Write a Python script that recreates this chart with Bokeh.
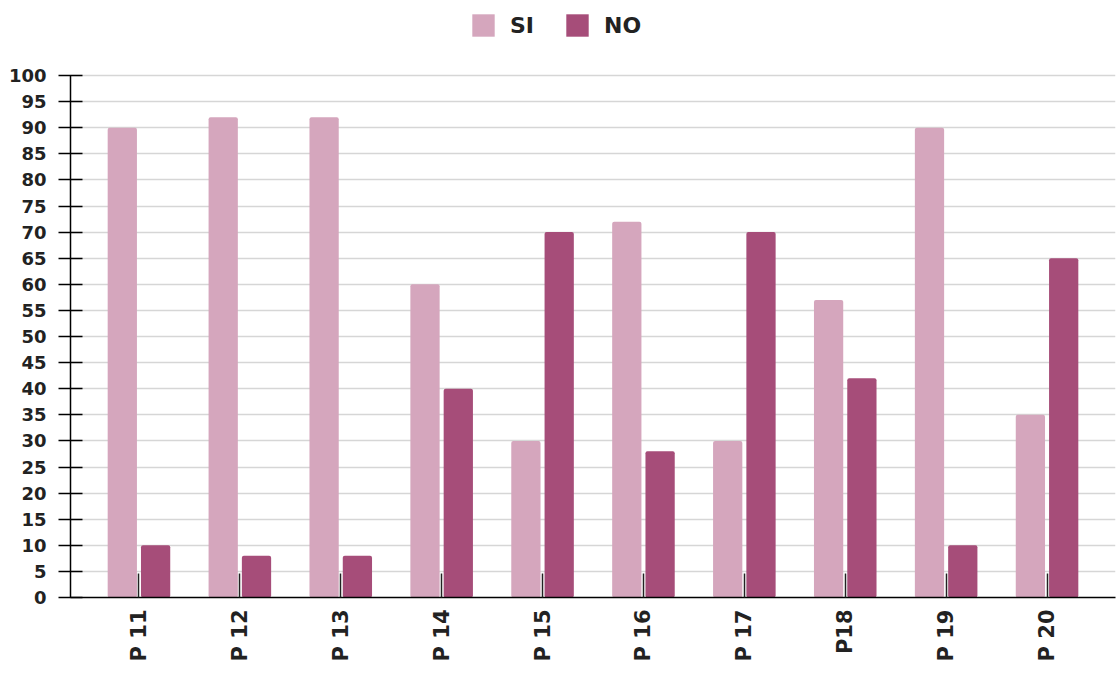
from bokeh.plotting import figure
from bokeh.models import FactorRange, Range1d, ColumnDataSource, SingleIntervalTicker, Legend, LegendItem
from bokeh.transform import dodge
from bokeh.embed import file_html
from bokeh.resources import INLINE
import math

categories = ["P 11", "P 12", "P 13", "P 14", "P 15", "P 16", "P 17", "P18", "P 19", "P 20"]
si_values = [90, 92, 92, 60, 30, 72, 30, 57, 90, 35]
no_values = [10, 8, 8, 40, 70, 28, 70, 42, 10, 65]
series_names = ["SI", "NO"]
colors = ["#d5a6bd", "#a64d79"]

source = ColumnDataSource(dict(cat=categories, si=si_values, no=no_values))

# frame spans full height above the axis; extra headroom holds the legend
p = figure(width=1118, height=674, output_backend="svg", toolbar_location=None,
           x_range=FactorRange(factors=categories, range_padding=0.0357),
           y_range=Range1d(0, 114.37),
           min_border_left=70, min_border_right=3, min_border_top=0, min_border_bottom=77)
p.outline_line_color = None
p.background_fill_color = "white"
p.border_fill_color = "white"

r1 = p.vbar(x=dodge("cat", -0.165, range=p.x_range), top="si", width=0.29, source=source,
            fill_color=colors[0], line_color=None, border_radius=2)
r2 = p.vbar(x=dodge("cat", 0.165, range=p.x_range), top="no", width=0.29, source=source,
            fill_color=colors[1], line_color=None, border_radius=2)

# grid
p.xgrid.grid_line_color = None
p.ygrid.grid_line_color = "#d6d6d6"
p.ygrid.grid_line_width = 1.5
p.ygrid.ticker = SingleIntervalTicker(interval=5)
p.ygrid.bounds = (0, 100)

# y axis
p.yaxis.ticker = SingleIntervalTicker(interval=5)
p.yaxis.bounds = (0, 100)
p.yaxis.axis_line_color = "black"
p.yaxis.axis_line_width = 1.5
p.yaxis.major_tick_line_color = "black"
p.yaxis.major_tick_line_width = 1.5
p.yaxis.major_tick_in = 12
p.yaxis.major_tick_out = 12
p.yaxis.minor_tick_line_color = None
p.yaxis.major_label_text_font = "DejaVu Sans"
p.yaxis.major_label_text_font_style = "bold"
p.yaxis.major_label_text_font_size = "18px"
p.yaxis.major_label_text_color = "#222222"
p.yaxis.major_label_standoff = 12

# x axis
p.xaxis.axis_line_color = "black"
p.xaxis.axis_line_width = 1.5
p.xaxis.major_tick_line_color = "#222222"
p.xaxis.major_tick_line_width = 1.5
p.xaxis.major_tick_in = 24
p.xaxis.major_tick_out = 0
p.xaxis.major_label_orientation = math.pi / 2
p.xaxis.major_label_text_font = "DejaVu Sans"
p.xaxis.major_label_text_font_style = "bold"
p.xaxis.major_label_text_font_size = "21px"
p.xaxis.major_label_text_color = "#222222"
p.xaxis.major_label_standoff = 12

legend = Legend(items=[LegendItem(label=series_names[0], renderers=[r1]),
                       LegendItem(label=series_names[1], renderers=[r2])],
                location=(399, 558), orientation="horizontal",
                glyph_width=28, glyph_height=28, label_standoff=13, spacing=29,
                padding=0, margin=0, border_line_color=None, background_fill_alpha=0,
                label_text_font="DejaVu Sans", label_text_font_style="bold",
                label_text_font_size="22px", label_text_color="#222222")
p.add_layout(legend)

open("out.html", "w").write(file_html(p, INLINE))
